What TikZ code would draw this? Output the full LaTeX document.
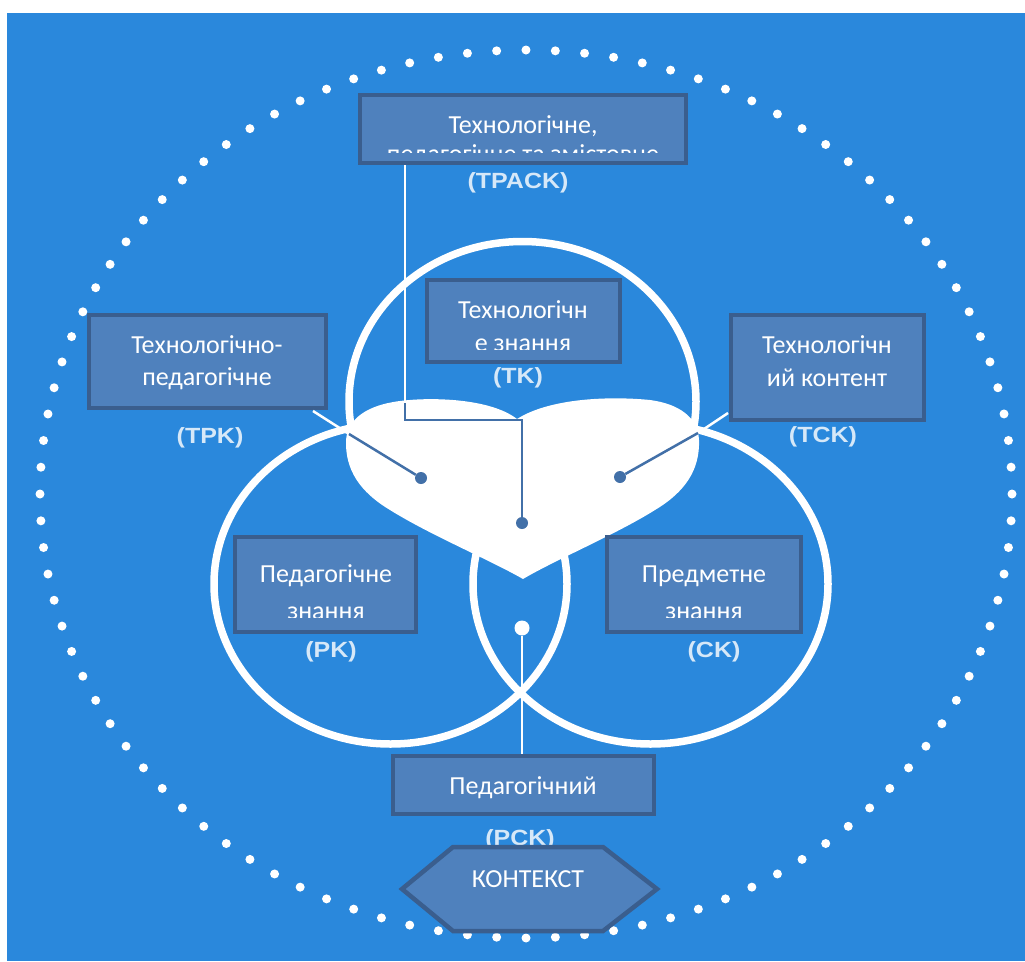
\documentclass[tikz,border=0pt]{standalone}
\usepackage{fontspec}
\setmainfont{Carlito}
\newfontfamily\labfont{Liberation Sans}
\definecolor{bg}{HTML}{2A88DC}
\definecolor{boxfill}{HTML}{4F81BD}
\definecolor{boxline}{HTML}{3A5E8E}
\definecolor{conn}{HTML}{4270A8}
\definecolor{labc}{HTML}{D6E8F8}
\newcommand{\squash}[1]{\scalebox{1}[0.88]{#1}}
\begin{document}
\begin{tikzpicture}[x=1pt,y=-1pt,
 box/.style={draw=boxline, fill=boxfill, line width=4.5pt, inner sep=0pt},
 btxt/.style={text=white, font=\fontsize{26}{30}\selectfont, anchor=base, inner sep=0pt},
 lab/.style={text=labc, font=\labfont\bfseries\fontsize{25}{28}\selectfont, inner sep=0pt},
 ring/.style={draw=white, line width=7.5pt},
 wline/.style={draw=white, line width=2.5pt},
 dline/.style={draw=conn, line width=2.5pt},
 ddot/.style={circle, fill=conn, inner sep=0pt, minimum size=12pt},
 wdot/.style={circle, fill=white, inner sep=0pt, minimum size=15pt},
]
\useasboundingbox (0,0) rectangle (1025,961);
\fill[white] (0,0) rectangle (1025,961);
\fill[bg] (7,13) rectangle (1025,961);
% dotted ellipse
\foreach \i in {0,...,103}{
  \pgfmathsetmacro{\ang}{\i*3.4615}
  \fill[white] ({526+486*cos(\ang)},{494+444*sin(\ang)}) circle[radius=4.5pt];
}
% circles (slightly squashed)
\begin{scope}
\clip (300,200) rectangle (750,445);
\draw[ring] (522.5,401.5) ellipse[x radius=173.5pt, y radius=160pt];
\end{scope}
\draw[ring] (390.5,584) ellipse[x radius=176.5pt, y radius=160pt];
\draw[ring] (650.5,584) ellipse[x radius=177.5pt, y radius=160pt];
% heart
\fill[white] (517,419) .. controls (490,398) and (430,397) .. (400,401)
  .. controls (368,405) and (348,418) .. (346,440)
  .. controls (345,470) and (360,492) .. (390,510)
  .. controls (430,535) and (490,560) .. (523,579)
  .. controls (555,560) and (615,535) .. (655,510)
  .. controls (685,492) and (700,470) .. (699,440)
  .. controls (698,418) and (680,404) .. (650,400)
  .. controls (610,396) and (550,398) .. (517,419) -- cycle;
% english labels
\node[lab] (lTPACK) at (518,183) {\squash{(TPACK)}};
\node[lab] (lTK) at (518,378) {\squash{(TK)}};
\node[lab] (lTPK) at (210,438) {\squash{(TPK)}};
\node[lab] (lTCK) at (823,437) {\squash{(TCK)}};
\node[lab] (lPK) at (331,652) {\squash{(PK)}};
\node[lab] (lCK) at (714,652) {\squash{(CK)}};
\node[lab] (lPCK) at (520,840) {\squash{(PCK)}};
% boxes
\node[box, minimum width=326pt, minimum height=68pt] (tpack) at (523,129) {};
\node[box, minimum width=193pt, minimum height=82pt] (tk) at (523.5,321) {};
\node[box, minimum width=237pt, minimum height=93pt] (tpk) at (207.5,361.5) {};
\node[box, minimum width=193pt, minimum height=105pt] (tck) at (827.5,367.5) {};
\node[box, minimum width=181pt, minimum height=95pt] (pk) at (325.5,584.5) {};
\node[box, minimum width=194pt, minimum height=95pt] (ck) at (704,584.5) {};
\node[box, minimum width=261pt, minimum height=58pt] (pck) at (523.5,785) {};
% box texts
\begin{scope}
\clip (360,96) rectangle (686,152);
\node[btxt] (t1a) at (523,133) {Технологічне,};
\node[btxt] (t1b) at (523,162) {педагогічне та змістовне};
\end{scope}
\begin{scope}
\clip (428,281) rectangle (619,349);
\node[btxt] (t2a) at (523,318) {Технологічн};
\node[btxt] (t2b) at (523,351) {е знання};
\end{scope}
\node[btxt] (t3a) at (207,353) {Технологічно-};
\node[btxt] (t3b) at (207,385) {педагогічне};
\node[btxt] (t4a) at (827,353) {Технологічн};
\node[btxt] (t4b) at (827,386) {ий контент};
\begin{scope}
\clip (236,538) rectangle (415,617);
\node[btxt] (t5a) at (326,582) {Педагогічне};
\node[btxt] (t5b) at (326,619) {знання};
\end{scope}
\begin{scope}
\clip (608,538) rectangle (800,617);
\node[btxt] (t6a) at (704,582) {Предметне};
\node[btxt] (t6b) at (704,619) {знання};
\end{scope}
\node[btxt] (t7a) at (523,794) {Педагогічний};
% hexagon
\draw[box] (402,889) -- (453,847) -- (603,847) -- (657,889) -- (603,931) -- (453,931) -- cycle;
\node[btxt] (ctx) at (528,887) {КОНТЕКСТ};
% dots
\node[ddot] (d1) at (522,523) {};
\node[ddot] (d2) at (421,478) {};
\node[ddot] (d3) at (620,477) {};
\node[wdot] (d4) at (522,628) {};
% connectors
\coordinate (c1) at (405,403);
\coordinate (c2) at (405,420);
\coordinate (c3) at (522,420);
\draw[wline] (tpack.south -| c1) -- (c1);
\draw[dline] (c1) -- (c2) -- (c3) -- (d1);
\coordinate (p1) at (313,411);
\coordinate (p2) at (349,434);
\draw[wline] (p1) -- (p2);
\draw[dline] (p2) -- (d2);
\coordinate (q1) at (728,413);
\coordinate (q2) at (698,433);
\draw[wline] (q1) -- (q2);
\draw[dline] (q2) -- (d3);
\draw[wline] (d4) -- (pck.north -| d4);
\end{tikzpicture}
\end{document}
